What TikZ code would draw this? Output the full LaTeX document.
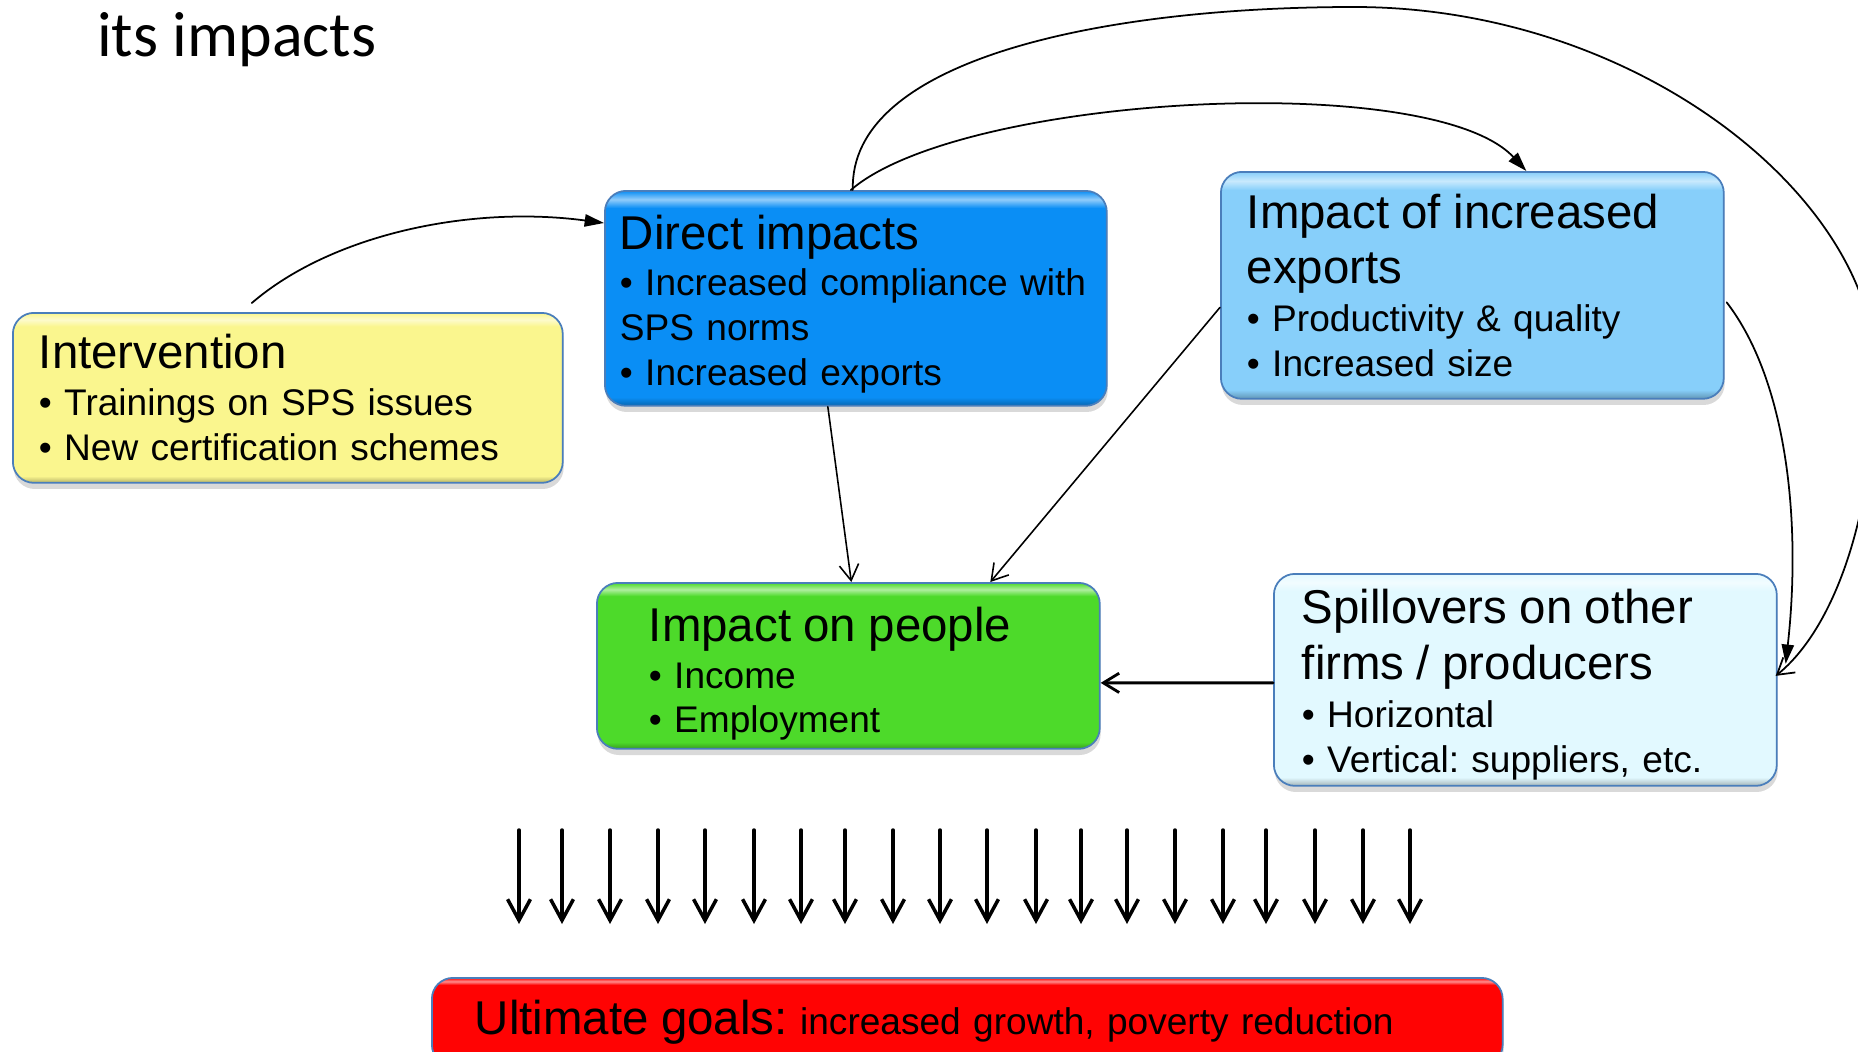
\documentclass[tikz,border=0pt]{standalone}
\usepackage{fontspec}
\setmainfont{Liberation Sans}
\newfontfamily\titlefont{Carlito}
\usetikzlibrary{arrows.meta,shadows}
\frenchspacing

\definecolor{boxline}{RGB}{74,126,187}
\definecolor{yellowbox}{RGB}{250,246,142}
\definecolor{bluebox}{RGB}{10,142,245}
\definecolor{skybox}{RGB}{135,207,250}
\definecolor{greenbox}{RGB}{77,218,42}
\definecolor{icebox}{RGB}{226,249,255}
\definecolor{redbox}{RGB}{255,3,3}

\pgfdeclareverticalshading[bevlo,bevmid,bevhi]{bevel}{100bp}{color(0bp)=(bevlo); color(25bp)=(bevlo); color(27bp)=(bevmid); color(71bp)=(bevmid); color(73bp)=(bevhi); color(75bp)=(bevmid); color(100bp)=(bevmid)}

\newcommand{\headsize}{\fontsize{27}{32.4}\selectfont}

\tikzset{
  bevelfill/.code={\colorlet{bevmid}{#1}\colorlet{bevlo}{#1!72!black}\colorlet{bevhi}{#1!45!white}\pgfkeysalso{/tikz/shade,/tikz/shading=bevel}},
  impbox/.style={draw=boxline,line width=1pt,rounded corners=12pt,anchor=north west,align=left,inner ysep=0pt,font=\fontsize{21.1}{25.6}\selectfont,drop shadow={shadow xshift=0.5pt,shadow yshift=-3.5pt,opacity=0.3}},
  thinarrow/.style={line width=0.9pt,-{Straight Barb[length=9pt,width=11pt]}},
  fillarrow/.style={line width=1pt,-{Triangle[length=11pt,width=7pt]}},
  goalarrow/.style={line width=2pt,-{Straight Barb[length=12pt,width=13pt]}}
}

\begin{document}
\begin{tikzpicture}[line cap=round,line join=round,x=0.02cm,y=-0.02cm]
\useasboundingbox (0,0) rectangle (1858,1051);
\clip (0,0) rectangle (1858,1051);
% title
\node[anchor=base west,inner sep=0pt,font=\titlefont\fontsize{36.4}{43}\selectfont] (title) at (97,57) {its impacts};
% boxes
\node[impbox,bevelfill=yellowbox,minimum width=11cm,minimum height=3.4cm,inner xsep=0.52cm,text width=9.96cm] (interv) at (12,312)
  {{\headsize Intervention}\\[1.1pt]
   \textbullet\ Trainings on SPS issues\\
   \textbullet\ New certification schemes};
\node[impbox,bevelfill=bluebox,minimum width=10.04cm,minimum height=4.3cm,inner xsep=0.3cm,text width=9.44cm] (direct) at (604,190)
  {\rule{0pt}{26pt}{\headsize Direct impacts}\\[0.6pt]
   \textbullet\ Increased compliance with\\
   SPS norms\\
   \textbullet\ Increased exports};
\node[impbox,bevelfill=skybox,minimum width=10.06cm,minimum height=4.54cm,inner xsep=0.52cm,text width=9.02cm] (exports) at (1220,171)
  {{\headsize Impact of increased}\\[5.7pt]
   {\headsize exports}\\[1.7pt]
   \textbullet\ Productivity \& quality\\
   \textbullet\ Increased size};
\node[impbox,bevelfill=greenbox,minimum width=10.06cm,minimum height=3.32cm,inner xsep=1.04cm,text width=7.98cm] (people) at (596,582)
  {\rule{0pt}{28.5pt}{\headsize Impact on people}\\[1.1pt]
   \textbullet\ Income\\[-1pt]
   \textbullet\ Employment};
\node[impbox,bevelfill=icebox,minimum width=10.06cm,minimum height=4.24cm,inner xsep=0.56cm,text width=8.94cm] (spill) at (1273,573)
  {\rule{0pt}{25pt}{\headsize Spillovers on other}\\[6.8pt]
   {\headsize firms / producers}\\[1.7pt]
   \textbullet\ Horizontal\\
   \textbullet\ Vertical: suppliers, etc.};
\node[impbox,bevelfill=redbox,minimum width=21.42cm,minimum height=1.76cm,inner xsep=0.86cm,text width=19.7cm] (goals) at (431,977)
  {{\headsize Ultimate goals:} increased growth, poverty reduction};
% links between boxes
\draw[fillarrow] ([shift={(-36,-9)}]interv.north) .. controls +(79,-68) and +(-135,-18) .. ([shift={(0,33)}]direct.north west);
\draw[fillarrow] ([shift={(-5,0)}]direct.north) .. controls +(110,-95) and +(-95,-102) .. ([shift={(54,0)}]exports.north);
\coordinate (looptop) at (1354,7);
\coordinate (loopright) at (1875,370);
\draw[thinarrow,line width=1pt] ([shift={(-3,0)}]direct.north) .. controls +(-4,-130) and +(-254,0) .. (looptop)
  .. controls +(286,0) and +(0,-170) .. (loopright)
  .. controls +(0,150) and +(56,-45) .. ([shift={(-2,-4)}]spill.east);
\draw[fillarrow] ([shift={(2,17)}]exports.east) .. controls +(60,78) and +(16,-143) .. ([shift={(8,-16)}]spill.east);
\draw[thinarrow] ([shift={(-28,0)}]direct.south) -- ([shift={(3,0)}]people.north);
\draw[thinarrow] ([shift={(0,22)}]exports.west) -- ([shift={(142,0)}]people.north);
\draw[thinarrow,line width=1.6pt] ([shift={(0,3)}]spill.west) -- ([shift={(0,17)}]people.east);
% arrows down to the goals
\foreach \x in {519,562,610,658,705,754,801,845,893,940,987,1036,1081,1127,1175,1223,1266,1315,1363,1410}
  \draw[goalarrow] (\x,830) -- (\x,924);
\end{tikzpicture}
\end{document}
